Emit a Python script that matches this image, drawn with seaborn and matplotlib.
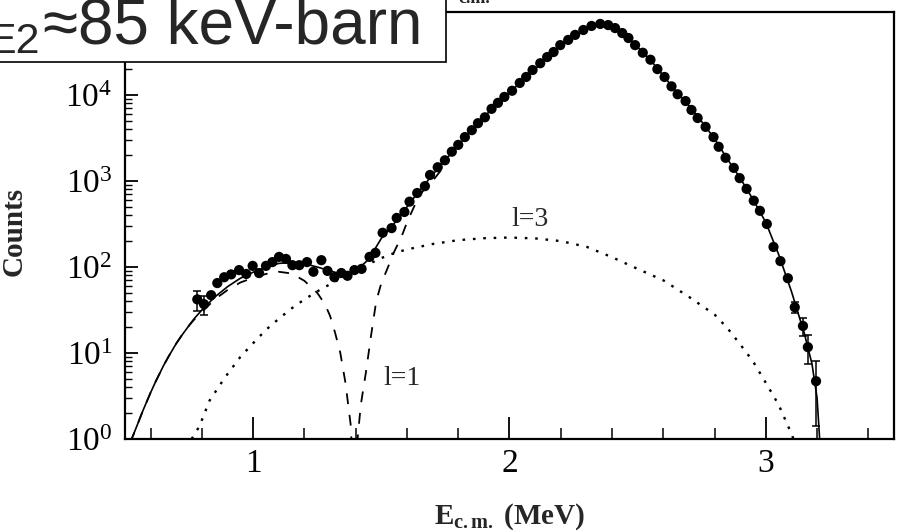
import matplotlib
matplotlib.use("Agg")
import matplotlib.pyplot as plt
import seaborn as sns
from matplotlib.patches import Rectangle
from matplotlib.ticker import MultipleLocator, LogLocator, NullFormatter

# measured spectrum (E c.m. in MeV, counts)
data_e = [0.782, 0.808, 0.836, 0.860, 0.887, 0.914, 0.945, 0.973, 0.998, 1.023,
          1.050, 1.075, 1.101, 1.128, 1.153, 1.180, 1.210, 1.235, 1.266, 1.290,
          1.317, 1.344, 1.368, 1.395, 1.423, 1.454, 1.477, 1.505, 1.540, 1.560,
          1.590, 1.610, 1.640, 1.670, 1.690, 1.720, 1.748, 1.775, 1.800, 1.826,
          1.853, 1.877, 1.904, 1.930, 1.955, 1.980, 2.010, 2.040, 2.065, 2.090,
          2.120, 2.147, 2.172, 2.198, 2.229, 2.256, 2.288, 2.320, 2.354, 2.385,
          2.412, 2.440, 2.464, 2.490, 2.520, 2.550, 2.577, 2.605, 2.632, 2.656,
          2.687, 2.710, 2.734, 2.765, 2.796, 2.816, 2.843, 2.875, 2.898, 2.925,
          2.953, 2.977, 3.004, 3.030, 3.057, 3.086, 3.113, 3.145, 3.164, 3.196]
data_counts = [42, 37, 47, 65, 76, 82, 92, 83, 103, 85,
               103, 114, 131, 124, 105, 105, 114, 88, 120, 90,
               76, 85, 79, 92, 95, 131, 146, 250, 283, 372,
               436, 575, 725, 871, 1175, 1445, 1740, 2190, 2630, 3240,
               3900, 4700, 5500, 6900, 8100, 9500, 11200, 13800, 16200, 19500,
               23400, 27600, 31600, 38000, 43700, 50000, 57000, 63500, 67000, 65000,
               60000, 52500, 46000, 38000, 31000, 25700, 20000, 16200, 12600, 10200,
               8500, 6700, 5400, 4260, 3240, 2500, 1860, 1420, 1080, 810,
               590, 450, 316, 171, 117, 74, 34, 20.6, 11.7, 4.7]

# points with visible error bars
err_e = [0.782, 0.808, 3.113, 3.145, 3.164, 3.196]
err_counts = [42, 37, 34, 20.6, 11.7, 4.7]
err_size = [11, 9.5, 5, 5, 4.3, 3.3]

# total fit (solid)
fit_e = [0.52, 0.53, 0.55, 0.57, 0.60, 0.62, 0.65, 0.67, 0.70, 0.72,
         0.75, 0.77, 0.80, 0.85, 0.90, 0.95,
         1.00, 1.05, 1.10, 1.15, 1.20, 1.25, 1.30, 1.35, 1.40, 1.45,
         1.50, 1.55, 1.60, 1.65, 1.70, 1.75, 1.80, 1.85, 1.90, 1.95,
         2.00, 2.05, 2.10, 2.15, 2.20, 2.25, 2.30, 2.35, 2.38, 2.40,
         2.45, 2.50, 2.55, 2.60, 2.65, 2.70, 2.75, 2.80, 2.85, 2.90,
         2.95, 3.00, 3.05, 3.10, 3.15, 3.18, 3.20, 3.21]
fit_counts = [0.91, 1.07, 1.51, 2.14, 3.47, 4.68, 7.1, 9.1, 12.9, 15.8,
              20.9, 25.1, 31.6, 44.7, 59, 74,
              87, 100, 110, 113, 109, 100, 90, 82, 90, 122,
              215, 320, 500, 780, 1180, 1760, 2600, 3800, 5500, 7900,
              10800, 14500, 20000, 27500, 37500, 48500, 59000, 66500, 66000, 62500,
              50000, 36000, 25500, 16800, 11000, 7500, 4900, 3100, 1800, 1080,
              610, 330, 140, 52, 17, 7.5, 3, 1]

# l=1 component (dashed)
l1_e = [0.52, 0.53, 0.55, 0.57, 0.60, 0.62, 0.65, 0.67, 0.70, 0.72,
        0.75, 0.77, 0.80, 0.85, 0.90, 0.95,
        1.00, 1.05, 1.10, 1.15, 1.20, 1.25, 1.28, 1.30, 1.32, 1.34,
        1.36, 1.38, 1.39, 1.40, 1.42, 1.44, 1.46, 1.48, 1.50, 1.52,
        1.55, 1.58, 1.60, 1.63, 1.66, 1.70, 1.75]
l1_counts = [0.91, 1.07, 1.51, 2.14, 3.47, 4.68, 7.1, 9.1, 12.9, 15.8,
             20.9, 24.5, 30, 42, 54, 66,
             75, 83, 88, 84, 69, 50, 37, 27, 17, 10,
             4.5, 1.5, 0.4, 0.6, 2.5, 6, 16, 40, 65, 90,
             150, 230, 330, 520, 750, 1000, 1550]

# l=3 component (dotted)
l3_e = [0.76, 0.79, 0.83, 0.89, 0.95, 1.00, 1.05, 1.10, 1.15, 1.20,
        1.25, 1.30, 1.35, 1.40, 1.45, 1.50, 1.55, 1.60, 1.70, 1.80,
        1.90, 2.00, 2.10, 2.20, 2.30, 2.40, 2.50, 2.60, 2.70, 2.80,
        2.85, 2.90, 2.95, 3.00, 3.05, 3.10, 3.12]
l3_counts = [1.0, 1.4, 2.8, 5.2, 9, 13, 18.6, 25, 33, 42,
             52, 63, 76, 90, 108, 127, 145, 160, 185, 205,
             216, 220, 215, 200, 172, 130, 95, 70, 45, 28,
             19.5, 12.6, 8, 4.5, 2.5, 1.15, 0.8]

sns.set_style("ticks")
plt.rcParams["font.family"] = ["Liberation Serif", "DejaVu Serif"]
plt.rcParams["mathtext.fontset"] = "custom"
plt.rcParams["mathtext.rm"] = "Liberation Serif"
plt.rcParams["mathtext.bf"] = "Liberation Serif:bold"
plt.rcParams["mathtext.it"] = "Liberation Serif:italic"

fig = plt.figure(figsize=(9, 5.31), dpi=100)
ax = fig.add_axes([0.1389, 0.1733, 0.8544, 0.8041])

sns.lineplot(x=fit_e, y=fit_counts, ax=ax, color="black", lw=1.2, sort=False)
sns.lineplot(x=l1_e, y=l1_counts, ax=ax, color="black", lw=1.3, sort=False,
             linestyle=(0, (6, 6)))
sns.lineplot(x=l3_e, y=l3_counts, ax=ax, color="black", lw=1.7, sort=False,
             linestyle=(0, (1.1, 3.3)))
ax.errorbar(err_e, err_counts, yerr=err_size, fmt="none", ecolor="black",
            elinewidth=1.1, capsize=3, capthick=1.1)
sns.scatterplot(x=data_e, y=data_counts, ax=ax, color="black", s=54,
                edgecolor="none", zorder=5)

ax.set_yscale("log")
ax.set_xlim(0.5, 3.5)
ax.set_ylim(1, 10 ** 4.965)

ax.xaxis.set_major_locator(MultipleLocator(1))
ax.xaxis.set_minor_locator(MultipleLocator(0.2))
ax.yaxis.set_major_locator(LogLocator(base=10, numticks=10))
ax.yaxis.set_minor_locator(LogLocator(base=10, subs=range(2, 10), numticks=10))
ax.yaxis.set_minor_formatter(NullFormatter())

ax.tick_params(axis="both", which="both", direction="in", color="black",
               labelcolor="black", labelsize=24)
ax.tick_params(axis="x", which="major", length=16, width=1.3, pad=7)
ax.tick_params(axis="x", which="minor", length=8, width=1.1)
ax.tick_params(axis="y", which="major", length=9, width=1.3, pad=9)
ax.tick_params(axis="y", which="minor", length=5, width=1.0)

for side in ["left", "bottom", "top", "right"]:
    ax.spines[side].set_visible(True)
    ax.spines[side].set_color("black")
    ax.spines[side].set_linewidth(1.6)

ax.set_ylabel("Counts", fontsize=21, fontweight="bold")
ax.yaxis.set_label_coords(-0.127, 0.487)
ax.set_xlabel(r"$\mathbf{E}_{\mathbf{c.m.}}$ (MeV)", fontsize=21, fontweight="bold")
ax.xaxis.set_label_coords(0.5, -0.145)

ax.text(2.08, 352, "l=3", fontsize=20, ha="center", va="center")
ax.text(1.579, 5.1, "l=1", fontsize=20, ha="center", va="center")

# overlay box with the S-factor
fig.add_artist(Rectangle((-0.01, 0.8832), 0.5056, 0.2, transform=fig.transFigure,
                         facecolor="white", edgecolor="black", lw=1.2, zorder=10))
fig.text(-11 / 900, 1 - 43 / 531, "S", fontsize=46, ha="right", va="baseline",
         family=["Liberation Sans", "DejaVu Sans"], zorder=11)
fig.text(40 / 900, 1 - 53 / 531, "E2", fontsize=31, ha="right", va="baseline",
         family=["Liberation Sans", "DejaVu Sans"], zorder=11)
fig.text(43 / 900, 1 - 43 / 531, "\u224885 keV-barn", fontsize=46, ha="left",
         va="baseline", family=["Liberation Sans", "DejaVu Sans"], zorder=11)
fig.text(458 / 900, 1 - 3 / 531, "c.m.", fontsize=13, fontweight="bold",
         ha="left", va="baseline")

fig.savefig("out.png", dpi=100)
